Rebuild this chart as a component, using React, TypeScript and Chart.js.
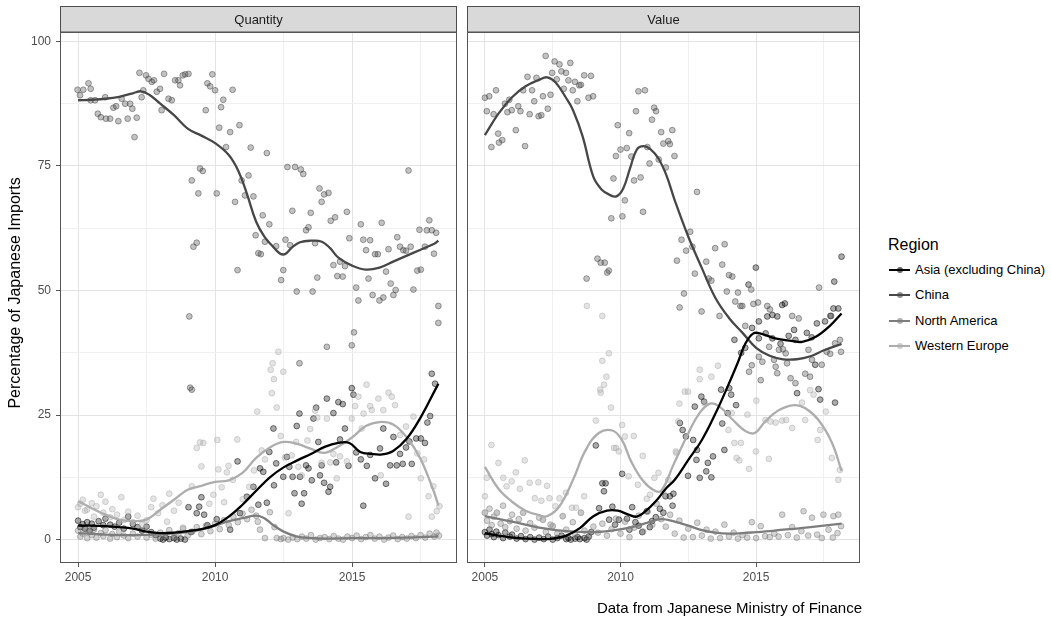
import React, { useEffect, useRef } from 'react';
import { Chart, registerables } from 'chart.js';

Chart.register(...registerables);

const FONT = "'Liberation Sans', Arial, Helvetica, sans-serif";

type P = [number, number];

// ---- categories / labels ----
const REGIONS = ['Asia (excluding China)', 'China', 'North America', 'Western Europe'];
const REGION_COLORS = ['#000000', '#474747', '#7d7d7d', '#adadad'];
const PANELS = ['Quantity', 'Value'];
const X_TICKS = [2005, 2007.5, 2010, 2012.5, 2015, 2017.5];
const X_LABELS = ['2005', '', '2010', '', '2015', ''];
const Y_TICKS = [0, 12.5, 25, 37.5, 50, 62.5, 75, 87.5, 100];
const Y_LABELS = ['0', '', '25', '', '50', '', '75', '', '100'];
const X_RANGE = [2004.34, 2018.83];
const Y_RANGE = [-4.7, 101.9];
const Y_TITLE = 'Percentage of Japanese Imports';
const LEGEND_TITLE = 'Region';
const CAPTION = 'Data from Japanese Ministry of Finance';

// ---- Quantity: observed shares ----
const qAsia: P[] = [
  [2005.0,3.8],[2005.08,2.5],[2005.17,3.1],[2005.25,2.2],[2005.33,3.5],[2005.42,1.8],[2005.5,3.2],[2005.58,2.4],
  [2005.75,3.7],[2005.92,2.9],[2006.0,4.2],[2006.17,3.0],[2006.33,2.6],[2006.5,3.4],[2006.67,2.2],[2006.83,4.6],
  [2007.0,3.1],[2007.17,2.5],[2007.33,1.8],[2007.5,2.6],[2007.67,1.5],[2007.83,0.9],[2008.0,0.2],[2008.1,0.0],
  [2008.2,0.4],[2008.33,0.1],[2008.5,0.3],[2008.6,0.0],[2008.75,0.2],[2008.9,0.0],[2009.03,6.5],[2009.12,1.5],
  [2009.33,5.3],[2009.42,6.6],[2009.5,8.5],[2009.6,5.0],[2009.72,2.9],[2010.06,4.1],[2010.55,2.0],[2010.82,15.7],
  [2010.91,5.3],[2011.16,8.6],[2011.4,10.6],[2011.58,7.0],[2011.64,14.3],[2011.76,13.6],[2011.89,7.4],[2011.98,17.6],
  [2012.13,22.3],[2012.15,10.9],[2012.23,15.3],[2012.49,12.6],[2012.62,16.6],[2012.71,14.6],[2012.83,12.6],[2012.9,9.3],
  [2012.98,22.8],[2013.08,25.3],[2013.1,12.6],[2013.16,7.2],[2013.25,9.3],[2013.32,14.9],[2013.41,14.3],[2013.53,11.9],
  [2013.59,24.3],[2013.69,26.5],[2013.77,19.6],[2013.83,12.9],[2013.89,14.9],[2013.98,11.4],[2014.08,28.3],[2014.14,9.6],
  [2014.2,10.6],[2014.32,25.4],[2014.42,15.5],[2014.5,27.6],[2014.56,20.1],[2014.66,27.2],[2014.74,22.3],[2014.87,14.8],
  [2014.99,30.4],[2015.05,29.1],[2015.15,17.5],[2015.32,16.1],[2015.41,6.8],[2015.54,14.8],[2015.66,17.0],[2015.84,12.3],
  [2016.02,18.3],[2016.14,22.3],[2016.24,11.2],[2016.39,14.9],[2016.51,20.6],[2016.63,14.9],[2016.75,17.2],[2016.85,15.2],
  [2016.97,18.5],[2017.09,19.7],[2017.18,15.2],[2017.34,20.3],[2017.51,20.3],[2017.66,19.4],[2017.75,23.5],[2017.85,24.8],
  [2017.91,33.3],[2018.03,31.3]
];
const qChina: P[] = [
  [2004.98,90.3],[2005.07,89.2],[2005.19,90.3],[2005.38,91.6],[2005.46,90.5],[2005.46,88.2],[2005.62,88.2],[2005.72,85.5],
  [2005.83,84.8],[2005.99,88.8],[2006.02,84.5],[2006.17,84.5],[2006.29,86.7],[2006.39,87.0],[2006.47,84.0],[2006.59,88.5],
  [2006.72,87.5],[2006.81,84.5],[2006.9,87.5],[2006.98,86.5],[2007.06,80.8],[2007.14,84.7],[2007.24,93.7],[2007.32,88.8],
  [2007.38,90.2],[2007.48,93.2],[2007.57,92.5],[2007.69,91.9],[2007.77,92.2],[2007.87,89.9],[2007.99,90.5],[2008.05,86.2],
  [2008.14,93.5],[2008.3,88.5],[2008.42,88.2],[2008.54,92.2],[2008.66,92.2],[2008.72,91.2],[2008.82,93.2],[2008.91,93.4],
  [2009.03,93.5],[2009.06,44.8],[2009.09,30.5],[2009.15,30.1],[2009.15,72.1],[2009.21,58.8],[2009.33,59.6],[2009.39,69.5],
  [2009.45,74.5],[2009.55,74.0],[2009.66,86.2],[2009.72,91.6],[2009.82,91.0],[2009.9,93.4],[2010.0,90.2],[2010.06,69.5],
  [2010.15,82.7],[2010.22,86.8],[2010.3,88.3],[2010.4,78.8],[2010.55,81.8],[2010.64,90.3],[2010.73,67.8],[2010.82,54.1],
  [2010.89,83.2],[2010.97,72.1],[2011.09,69.1],[2011.22,73.1],[2011.3,78.7],[2011.4,68.9],[2011.48,61.1],[2011.58,57.5],
  [2011.67,57.3],[2011.74,65.1],[2011.82,59.8],[2011.89,77.6],[2011.98,63.3],[2012.23,58.9],[2012.41,52.1],[2012.49,54.1],
  [2012.57,60.2],[2012.64,74.8],[2012.74,59.1],[2012.82,66.0],[2012.92,74.8],[2012.98,49.8],[2013.08,35.4],[2013.13,74.3],
  [2013.22,73.4],[2013.32,62.1],[2013.41,62.7],[2013.49,65.6],[2013.56,49.8],[2013.65,59.5],[2013.73,52.6],[2013.81,70.5],
  [2013.89,67.8],[2013.98,69.3],[2014.08,38.7],[2014.14,69.6],[2014.22,64.0],[2014.32,55.1],[2014.38,64.7],[2014.46,52.9],
  [2014.56,55.8],[2014.66,52.8],[2014.74,54.9],[2014.81,65.8],[2014.9,60.5],[2014.99,39.0],[2015.07,41.6],[2015.15,50.6],
  [2015.23,48.0],[2015.32,63.3],[2015.41,60.2],[2015.51,58.1],[2015.6,52.4],[2015.66,60.1],[2015.75,49.1],[2015.84,57.3],
  [2015.94,57.3],[2016.0,48.0],[2016.08,63.6],[2016.14,48.6],[2016.24,53.8],[2016.33,58.3],[2016.41,51.4],[2016.51,49.1],
  [2016.59,50.1],[2016.65,60.7],[2016.75,58.8],[2016.87,58.1],[2016.97,58.0],[2017.06,74.1],[2017.14,58.8],[2017.24,50.2],
  [2017.38,54.0],[2017.46,62.2],[2017.51,54.2],[2017.66,58.8],[2017.73,62.1],[2017.82,64.1],[2017.91,62.1],[2017.99,57.4],
  [2018.07,61.6],[2018.15,46.9],[2018.15,43.5]
];
const qNorthAmerica: P[] = [
  [2005.0,1.8],[2005.08,0.6],[2005.17,1.2],[2005.25,2.4],[2005.33,0.3],[2005.42,1.5],[2005.5,0.9],[2005.58,2.0],
  [2005.67,0.4],[2005.83,1.3],[2005.92,0.7],[2006.0,1.9],[2006.17,0.2],[2006.25,1.1],[2006.42,0.5],[2006.5,1.6],
  [2006.67,0.8],[2006.83,0.3],[2007.0,1.2],[2007.17,0.6],[2007.33,1.8],[2007.5,0.4],[2007.67,1.0],[2007.83,0.2],
  [2008.0,1.4],[2008.17,0.7],[2008.33,1.9],[2008.5,0.5],[2008.67,1.3],[2008.83,2.2],[2009.0,0.8],[2009.17,1.6],
  [2009.33,2.5],[2009.5,1.1],[2009.67,2.8],[2009.83,1.7],[2010.0,3.2],[2010.17,2.1],[2010.33,3.9],[2010.5,2.9],
  [2010.67,4.6],[2010.83,3.5],[2011.0,5.2],[2011.17,4.1],[2011.33,6.0],[2011.5,4.8],[2011.56,3.6],[2011.64,2.0],
  [2011.82,0.3],[2012.0,5.5],[2012.17,2.5],[2012.25,0.3],[2012.4,0.1],[2012.5,0.3],[2012.67,0.0],[2012.83,0.4],
  [2013.0,0.1],[2013.17,0.6],[2013.33,0.2],[2013.5,0.9],[2013.67,0.0],[2013.83,0.3],[2014.0,0.5],[2014.17,0.1],
  [2014.33,0.7],[2014.5,0.2],[2014.67,0.0],[2014.83,0.6],[2015.0,0.3],[2015.17,0.8],[2015.33,0.1],[2015.5,0.5],
  [2015.67,0.9],[2015.83,0.2],[2016.0,0.6],[2016.17,0.0],[2016.33,0.4],[2016.5,0.8],[2016.67,0.1],[2016.83,0.5],
  [2017.0,0.2],[2017.17,0.7],[2017.33,0.3],[2017.5,0.9],[2017.67,0.4],[2017.83,1.2],[2018.0,0.6],[2018.08,1.4],
  [2018.17,0.8]
];
const qWesternEurope: P[] = [
  [2005.0,6.5],[2005.08,7.2],[2005.17,8.0],[2005.25,5.8],[2005.33,6.0],[2005.5,7.3],[2005.58,4.6],[2005.67,6.7],
  [2005.83,9.0],[2005.92,5.4],[2006.0,7.6],[2006.17,4.5],[2006.25,6.1],[2006.42,5.0],[2006.58,8.5],[2006.67,3.9],
  [2006.83,5.6],[2007.0,3.5],[2007.17,4.8],[2007.33,3.0],[2007.5,3.9],[2007.67,6.5],[2007.75,8.2],[2007.92,5.3],
  [2008.08,6.9],[2008.25,3.6],[2008.33,9.2],[2008.5,5.8],[2008.67,7.4],[2008.83,2.4],[2009.15,10.7],[2009.33,18.4],
  [2009.45,19.5],[2009.5,14.7],[2009.57,19.4],[2009.79,7.2],[2009.94,9.0],[2010.08,20.0],[2010.12,14.1],[2010.24,10.5],
  [2010.33,7.5],[2010.43,13.5],[2010.49,14.8],[2010.65,12.0],[2010.81,20.1],[2011.01,8.1],[2011.25,10.6],[2011.42,13.9],
  [2011.54,25.7],[2011.7,17.9],[2011.82,16.1],[2012.03,34.1],[2012.07,29.4],[2012.1,35.4],[2012.15,32.2],[2012.25,26.5],
  [2012.31,37.7],[2012.4,20.8],[2012.49,33.7],[2012.55,16.5],[2012.68,5.3],[2012.8,16.9],[2012.96,19.6],[2013.04,14.6],
  [2013.16,12.9],[2013.37,19.9],[2013.47,22.2],[2013.65,25.9],[2013.73,24.5],[2013.89,15.4],[2014.08,24.3],[2014.2,15.5],
  [2014.32,17.2],[2014.44,12.3],[2014.56,16.7],[2014.81,15.7],[2014.99,24.3],[2015.11,26.8],[2015.23,28.7],[2015.35,22.3],
  [2015.42,25.3],[2015.53,31.1],[2015.66,26.8],[2015.72,26.0],[2015.96,28.3],[2016.05,12.9],[2016.14,26.0],[2016.33,29.5],
  [2016.45,28.7],[2016.57,27.0],[2016.75,21.0],[2016.97,22.7],[2017.06,4.6],[2017.24,24.7],[2017.38,17.3],[2017.51,12.3],
  [2017.63,16.1],[2017.79,8.7],[2017.91,4.6],[2017.97,10.7],[2018.09,5.7],[2018.19,6.7]
];

// ---- Value: observed shares ----
const vAsia: P[] = [
  [2005.0,1.5],[2005.08,0.8],[2005.17,2.0],[2005.25,1.1],[2005.33,0.5],[2005.42,1.6],[2005.5,0.9],[2005.67,0.3],
  [2005.75,1.4],[2005.92,0.6],[2006.0,1.0],[2006.17,0.2],[2006.33,0.7],[2006.5,0.1],[2006.67,0.5],[2006.83,0.0],
  [2007.0,0.4],[2007.17,0.1],[2007.33,0.6],[2007.5,0.0],[2007.67,0.3],[2007.83,0.8],[2008.0,0.1],[2008.08,0.3],
  [2008.17,0.0],[2008.33,0.2],[2008.42,0.5],[2008.5,0.1],[2008.67,0.3],[2008.75,0.0],[2008.83,0.6],[2008.92,1.5],
  [2009.09,18.9],[2009.21,6.3],[2009.33,11.3],[2009.39,9.7],[2009.45,11.3],[2009.58,4.0],[2009.7,6.6],[2009.8,3.0],
  [2009.94,4.0],[2010.06,13.2],[2010.24,4.2],[2010.33,2.0],[2010.43,6.5],[2010.55,3.5],[2010.67,2.8],[2010.8,1.5],
  [2010.97,5.7],[2011.08,2.5],[2011.16,3.7],[2011.3,4.5],[2011.45,6.2],[2011.58,5.4],[2011.66,8.7],[2011.82,8.7],
  [2011.92,6.8],[2011.95,9.2],[2012.19,23.4],[2012.29,22.0],[2012.41,20.7],[2012.49,12.8],[2012.68,20.0],[2012.74,26.7],
  [2012.8,16.0],[2012.82,18.0],[2012.92,12.4],[2012.98,28.7],[2013.08,27.7],[2013.16,13.7],[2013.22,15.4],[2013.35,12.5],
  [2013.41,16.7],[2013.71,30.1],[2013.75,23.3],[2013.83,18.0],[2013.95,25.4],[2014.01,30.4],[2014.08,29.1],[2014.2,40.1],
  [2014.26,27.0],[2014.45,37.5],[2014.6,38.5],[2014.72,51.2],[2014.85,42.5],[2014.99,54.6],[2015.1,40.4],[2015.1,43.8],
  [2015.35,41.4],[2015.41,44.8],[2015.6,40.4],[2015.6,45.1],[2015.78,44.8],[2015.9,39.3],[2015.96,47.1],[2016.06,47.4],
  [2016.2,40.9],[2016.4,42.1],[2016.45,40.1],[2016.51,29.4],[2016.87,41.5],[2017.05,40.6],[2017.18,35.1],[2017.24,43.4],
  [2017.3,30.2],[2017.36,28.1],[2017.54,43.8],[2017.76,44.9],[2017.85,46.4],[2017.88,51.8],[2017.91,27.5],[2018.03,46.4],
  [2018.15,56.8]
];
const vChina: P[] = [
  [2005.0,88.7],[2005.07,86.0],[2005.16,89.0],[2005.24,78.8],[2005.32,85.4],[2005.41,90.2],[2005.49,81.5],[2005.52,79.7],
  [2005.64,80.2],[2005.74,87.5],[2005.83,85.8],[2005.9,88.3],[2005.99,86.2],[2006.14,82.2],[2006.23,87.0],[2006.31,86.0],
  [2006.41,90.2],[2006.48,79.0],[2006.57,92.9],[2006.65,85.4],[2006.74,90.2],[2006.82,88.0],[2006.9,92.7],[2006.98,85.0],
  [2007.08,85.2],[2007.14,89.0],[2007.24,97.1],[2007.32,86.5],[2007.42,89.3],[2007.48,93.7],[2007.57,96.0],[2007.65,92.4],
  [2007.75,95.4],[2007.82,94.0],[2007.91,90.5],[2007.99,93.7],[2008.08,92.2],[2008.15,95.7],[2008.24,90.2],[2008.32,91.9],
  [2008.41,88.0],[2008.48,91.2],[2008.54,91.3],[2008.66,93.2],[2008.75,52.4],[2008.82,88.7],[2008.91,93.1],[2008.99,89.0],
  [2009.15,56.4],[2009.27,55.6],[2009.42,55.6],[2009.51,53.6],[2009.57,54.0],[2009.66,64.5],[2009.74,72.5],[2009.83,77.0],
  [2009.9,83.2],[2010.0,78.3],[2010.07,64.9],[2010.16,68.1],[2010.23,78.6],[2010.32,81.6],[2010.4,76.9],[2010.5,72.1],
  [2010.57,86.0],[2010.66,90.0],[2010.74,72.7],[2010.83,65.8],[2010.9,90.2],[2010.99,78.8],[2011.07,75.5],[2011.16,84.3],
  [2011.24,86.7],[2011.31,86.0],[2011.41,76.3],[2011.5,81.8],[2011.58,79.5],[2011.67,74.7],[2011.76,80.0],[2011.82,79.4],
  [2011.91,82.2],[2011.99,77.0],[2012.08,56.0],[2012.18,46.6],[2012.25,60.2],[2012.34,49.4],[2012.42,58.0],[2012.57,61.8],
  [2012.65,58.8],[2012.74,53.4],[2012.82,69.8],[2012.99,45.8],[2013.16,55.8],[2013.25,52.4],[2013.35,52.0],[2013.49,58.5],
  [2013.65,44.9],[2013.75,55.2],[2013.84,59.3],[2013.92,49.8],[2014.0,53.1],[2014.12,52.8],[2014.23,47.8],[2014.33,49.6],
  [2014.42,46.9],[2014.49,46.9],[2014.6,42.9],[2014.74,33.7],[2014.82,50.2],[2014.84,35.0],[2014.9,47.3],[2015.07,47.6],
  [2015.1,36.7],[2015.17,32.0],[2015.23,35.7],[2015.41,46.9],[2015.48,38.7],[2015.51,46.2],[2015.66,36.1],[2015.72,34.7],
  [2015.78,33.4],[2015.84,38.1],[2015.99,38.2],[2016.09,37.4],[2016.14,35.4],[2016.27,32.4],[2016.33,44.9],[2016.45,31.4],
  [2016.57,44.4],[2016.81,33.3],[2016.93,38.1],[2016.99,32.7],[2017.06,36.1],[2017.32,50.6],[2017.42,35.1],[2017.6,37.7],
  [2017.73,44.9],[2017.73,37.3],[2017.91,39.4],[2018.09,40.1],[2018.13,37.7]
];
const vNorthAmerica: P[] = [
  [2005.0,5.4],[2005.08,3.8],[2005.17,6.2],[2005.25,2.9],[2005.33,4.6],[2005.44,5.4],[2005.58,3.2],[2005.67,6.8],
  [2005.75,2.5],[2005.92,3.7],[2006.0,5.0],[2006.17,2.2],[2006.25,4.1],[2006.41,5.4],[2006.5,1.8],[2006.67,3.3],
  [2006.83,2.4],[2007.0,4.4],[2007.14,4.0],[2007.25,1.5],[2007.42,3.0],[2007.5,2.7],[2007.67,1.2],[2007.87,4.7],
  [2008.0,2.0],[2008.24,3.5],[2008.33,1.0],[2008.54,5.4],[2008.67,1.8],[2008.83,0.6],[2009.0,2.6],[2009.17,1.4],
  [2009.33,3.2],[2009.5,0.8],[2009.67,2.1],[2009.83,4.2],[2010.0,1.2],[2010.17,3.6],[2010.33,0.5],[2010.5,2.4],
  [2010.67,4.8],[2010.83,1.6],[2011.0,5.6],[2011.17,3.0],[2011.33,7.2],[2011.5,4.1],[2011.67,2.6],[2011.83,5.0],
  [2012.0,1.2],[2012.17,3.8],[2012.33,0.4],[2012.5,2.2],[2012.67,0.5],[2012.83,3.4],[2013.0,0.8],[2013.17,2.0],
  [2013.33,0.2],[2013.5,1.6],[2013.67,0.3],[2013.83,3.0],[2014.0,0.6],[2014.17,1.4],[2014.33,0.2],[2014.5,0.9],
  [2014.67,0.4],[2014.84,3.5],[2015.0,0.3],[2015.17,2.7],[2015.33,0.7],[2015.5,0.5],[2015.67,1.2],[2015.83,0.6],
  [2015.96,5.0],[2016.17,0.9],[2016.33,2.5],[2016.5,0.4],[2016.67,1.7],[2016.75,5.7],[2016.92,0.8],[2017.06,4.4],
  [2017.25,1.0],[2017.42,0.3],[2017.48,5.0],[2017.67,2.0],[2017.83,0.4],[2017.85,4.7],[2018.0,1.3],[2018.03,5.0],
  [2018.13,2.7]
];
const vWesternEurope: P[] = [
  [2005.0,8.7],[2005.0,5.4],[2005.07,12.4],[2005.24,19.0],[2005.44,5.4],[2005.5,15.4],[2005.68,12.4],[2005.8,10.7],
  [2005.92,3.7],[2005.99,11.7],[2006.14,13.5],[2006.29,10.2],[2006.41,5.4],[2006.47,15.9],[2006.65,11.4],[2006.84,8.3],
  [2006.97,11.5],[2007.08,7.8],[2007.14,4.0],[2007.29,10.8],[2007.38,8.3],[2007.5,2.7],[2007.6,6.7],[2007.75,8.3],
  [2007.87,4.7],[2007.99,9.4],[2008.21,6.4],[2008.36,6.4],[2008.54,5.4],[2008.66,8.7],[2008.76,46.9],[2009.09,23.9],
  [2009.25,30.1],[2009.27,29.5],[2009.33,35.9],[2009.33,44.9],[2009.39,31.1],[2009.48,32.7],[2009.57,37.4],[2009.65,26.5],
  [2009.76,18.4],[2009.84,18.4],[2009.94,17.7],[2010.06,23.0],[2010.16,20.7],[2010.3,12.7],[2010.49,20.8],[2010.64,11.0],
  [2010.82,16.8],[2010.97,8.2],[2011.09,9.0],[2011.25,12.4],[2011.4,13.4],[2011.58,9.4],[2011.76,12.0],[2012.04,17.7],
  [2012.07,17.4],[2012.13,23.7],[2012.17,27.3],[2012.37,29.7],[2012.49,29.7],[2012.92,32.2],[2012.92,34.1],[2013.1,27.4],
  [2013.35,32.7],[2013.59,34.9],[2013.98,22.0],[2014.1,25.4],[2014.2,19.4],[2014.28,16.4],[2014.38,15.9],[2014.44,19.4],
  [2014.68,25.1],[2014.74,14.2],[2014.99,17.7],[2015.01,27.9],[2015.35,24.0],[2015.47,16.2],[2015.53,23.7],[2015.72,23.5],
  [2015.96,23.9],[2016.11,24.0],[2016.33,22.4],[2016.69,27.5],[2016.81,24.0],[2016.99,30.0],[2017.12,29.1],[2017.27,20.0],
  [2017.36,22.0],[2017.57,25.7],[2017.79,16.4],[2018.03,12.0],[2018.09,14.0]
];

// ---- smoothed trend lines ----
const qAsiaTrend: P[] = [
  [2005,2.8],[2005.5,2.8],[2006,2.7],[2006.5,2.5],[2007,2.2],[2007.5,1.6],[2008,1.3],[2008.5,1.4],[2009,1.7],
  [2009.5,2.1],[2010,2.9],[2010.5,4.6],[2011,7.0],[2011.5,9.8],[2012,12.5],[2012.5,14.5],[2013,15.9],[2013.5,17.2],
  [2014,18.6],[2014.5,19.4],[2014.9,19.4],[2015.3,17.6],[2015.7,17.2],[2016.1,17.1],[2016.5,17.8],[2017,20.3],
  [2017.5,24.5],[2018,29.7],[2018.15,31.3]
];
const qChinaTrend: P[] = [
  [2005,88.2],[2005.5,88.3],[2006,88.5],[2006.5,88.9],[2007,89.6],[2007.3,90.0],[2007.6,89.3],[2008,87.5],[2008.5,85.2],
  [2009,82.5],[2009.5,81.1],[2010,79.6],[2010.5,77.2],[2010.85,74.0],[2011.15,69.6],[2011.5,63.8],[2011.8,60.8],
  [2012.1,58.9],[2012.35,57.5],[2012.55,57.3],[2012.8,58.6],[2013.1,59.7],[2013.5,60.0],[2013.9,59.8],[2014.2,58.5],
  [2014.5,56.6],[2015,55.0],[2015.5,54.2],[2016,54.6],[2016.5,55.8],[2017,57.0],[2017.5,58.2],[2018,59.4],[2018.15,60.0]
];
const qNorthAmericaTrend: P[] = [
  [2005,1.3],[2006,1.0],[2007,0.9],[2008,1.1],[2009,1.5],[2009.5,2.0],[2010,2.8],[2010.5,3.7],[2011,4.3],[2011.5,4.8],
  [2011.8,4.3],[2012.1,3.0],[2012.5,1.6],[2013,0.6],[2013.5,0.3],[2014,0.2],[2015,0.3],[2016,0.3],[2017,0.4],[2018,0.6],
  [2018.15,0.7]
];
const qWesternEuropeTrend: P[] = [
  [2005,7.7],[2005.5,6.3],[2006,5.0],[2006.5,4.0],[2007,3.7],[2007.5,4.0],[2008,6.0],[2008.5,8.0],[2009,10.0],
  [2009.5,10.8],[2010,11.6],[2010.5,11.9],[2011,13.4],[2011.5,16.4],[2012,18.5],[2012.5,19.6],[2013,19.2],[2013.5,18.2],
  [2014,17.4],[2014.5,18.7],[2015,20.5],[2015.5,22.8],[2016,23.6],[2016.5,23.1],[2017,20.5],[2017.5,16.2],[2018,9.4],
  [2018.15,6.8]
];
const vAsiaTrend: P[] = [
  [2005,1.3],[2005.5,0.8],[2006,0.4],[2006.5,0.2],[2007,0.1],[2007.5,0.2],[2008,0.8],[2008.5,2.3],[2009,4.7],
  [2009.5,5.8],[2009.9,5.8],[2010.3,5.0],[2010.6,4.6],[2010.9,5.6],[2011.3,7.7],[2011.7,10.4],[2012,12.0],[2012.5,16.0],
  [2013,20.0],[2013.5,25.3],[2013.9,30.1],[2014.3,35.2],[2014.6,39.3],[2014.9,41.4],[2015.2,41.3],[2015.7,40.4],
  [2016.3,39.9],[2016.7,39.7],[2017.2,40.7],[2017.7,42.8],[2018.15,45.4]
];
const vChinaTrend: P[] = [
  [2005,81.2],[2005.5,85.5],[2006,88.8],[2006.5,91.0],[2007,92.3],[2007.3,92.8],[2007.6,91.8],[2008,88.6],[2008.25,86.2],
  [2008.6,81.0],[2009,72.8],[2009.3,70.3],[2009.6,69.2],[2009.85,68.9],[2010.1,70.5],[2010.35,74.5],[2010.6,78.3],
  [2010.85,79.0],[2011.1,78.4],[2011.4,76.5],[2011.7,73.0],[2012,68.1],[2012.5,60.8],[2013,54.5],[2013.5,48.5],[2014,44.5],
  [2014.5,41.5],[2015,38.5],[2015.5,36.9],[2016,36.2],[2016.5,36.2],[2017,36.8],[2017.5,38.0],[2018,39.0],[2018.15,39.3]
];
const vNorthAmericaTrend: P[] = [
  [2005,4.7],[2006,3.6],[2007,2.4],[2008,1.7],[2009,1.5],[2009.8,1.9],[2010.5,2.6],[2011,3.4],[2011.5,4.1],[2012,3.6],
  [2012.5,2.8],[2013,1.9],[2013.5,1.4],[2014,1.2],[2014.5,1.3],[2015,1.5],[2015.5,1.7],[2016,2.0],[2016.5,2.2],
  [2017,2.5],[2017.5,2.8],[2018.15,3.2]
];
const vWesternEuropeTrend: P[] = [
  [2005,14.6],[2005.5,10.2],[2006,7.6],[2006.5,5.8],[2007,4.9],[2007.3,4.7],[2007.75,6.7],[2008.25,12.0],[2008.7,17.8],
  [2009.2,21.4],[2009.7,21.9],[2010.05,20.0],[2010.4,15.6],[2010.8,12.0],[2011.2,10.0],[2011.5,9.8],[2011.95,15.0],
  [2012.45,20.8],[2012.9,25.3],[2013.3,27.3],[2013.65,26.7],[2014.15,24.0],[2014.6,21.8],[2014.95,21.4],[2015.35,23.8],
  [2015.85,26.0],[2016.4,27.0],[2016.8,26.4],[2017.3,24.0],[2017.8,19.4],[2018.15,13.8]
];

const PANEL_POINTS: P[][][] = [
  [qAsia, qChina, qNorthAmerica, qWesternEurope],
  [vAsia, vChina, vNorthAmerica, vWesternEurope],
];
const PANEL_TRENDS: P[][][] = [
  [qAsiaTrend, qChinaTrend, qNorthAmericaTrend, qWesternEuropeTrend],
  [vAsiaTrend, vChinaTrend, vNorthAmericaTrend, vWesternEuropeTrend],
];

function hexToRgba(hex: string, a: number) {
  const n = parseInt(hex.slice(1), 16);
  return `rgba(${(n >> 16) & 255},${(n >> 8) & 255},${n & 255},${a})`;
}

const toXY = (arr: P[]) => arr.map(([x, y]) => ({ x, y }));

function makePanelPlugin(title: string) {
  return {
    id: 'panelDecor',
    beforeDraw(chart: any) {
      const { ctx, chartArea } = chart;
      const top = 6.5;
      ctx.save();
      ctx.fillStyle = '#d9d9d9';
      ctx.fillRect(chartArea.left, top, chartArea.right - chartArea.left, chartArea.top - top);
      ctx.strokeStyle = '#4d4d4d';
      ctx.lineWidth = 1;
      ctx.strokeRect(chartArea.left + 0.5, top, chartArea.right - chartArea.left - 1, chartArea.top - top);
      ctx.fillStyle = '#1a1a1a';
      ctx.font = `13px ${FONT}`;
      ctx.textAlign = 'center';
      ctx.textBaseline = 'middle';
      ctx.fillText(title, (chartArea.left + chartArea.right) / 2, (top + chartArea.top) / 2 + 1);
      ctx.restore();
    },
    afterDatasetsDraw(chart: any) {
      const { ctx, chartArea } = chart;
      ctx.save();
      ctx.strokeStyle = '#555555';
      ctx.lineWidth = 1;
      ctx.strokeRect(chartArea.left + 0.5, chartArea.top + 0.5, chartArea.right - chartArea.left - 1, chartArea.bottom - chartArea.top - 1);
      ctx.restore();
    },
  };
}

function Panel({ index, left, width, showY }: { index: number; left: number; width: number; showY: boolean }) {
  const ref = useRef<HTMLCanvasElement>(null);
  useEffect(() => {
    if (!ref.current) return;
    const datasets: any[] = [];
    PANEL_POINTS[index].forEach((pts, i) => {
      datasets.push({
        type: 'scatter',
        label: REGIONS[i] + ' points',
        data: toXY(pts),
        backgroundColor: hexToRgba(REGION_COLORS[i], 0.33),
        borderColor: hexToRgba(REGION_COLORS[i], 0.5),
        borderWidth: 1,
        pointRadius: 2.9,
        order: 10 - i,
      });
    });
    PANEL_TRENDS[index].forEach((pts, i) => {
      datasets.push({
        type: 'line',
        label: REGIONS[i],
        data: toXY(pts),
        borderColor: REGION_COLORS[i],
        borderWidth: 2.3,
        pointRadius: 0,
        fill: false,
        tension: 0.4,
        cubicInterpolationMode: 'default',
        order: 0,
      });
    });
    const gridColor = (major: boolean) => (major ? '#e3e3e3' : '#f0f0f0');
    const chart = new Chart(ref.current, {
      type: 'scatter',
      data: { datasets },
      plugins: [makePanelPlugin(PANELS[index])],
      options: {
        animation: false,
        responsive: false,
        devicePixelRatio: 1,
        layout: { padding: { top: 32, left: showY ? 0 : 3, right: showY ? 5 : 3, bottom: 0 } },
        plugins: { legend: { display: false }, tooltip: { enabled: false } },
        scales: {
          x: {
            type: 'linear',
            min: X_RANGE[0],
            max: X_RANGE[1],
            afterBuildTicks: (s: any) => { s.ticks = X_TICKS.map((v) => ({ value: v })); },
            afterFit: (s: any) => { s.height = 37; },
            ticks: {
              autoSkip: false,
              maxRotation: 0,
              padding: 3,
              color: '#4d4d4d',
              font: { family: FONT, size: 12 },
              callback: (v: any) => { const k = X_TICKS.indexOf(Number(v)); return k >= 0 ? X_LABELS[k] : ''; },
            },
            grid: {
              color: (c: any) => gridColor(X_LABELS[X_TICKS.indexOf(c.tick?.value)] !== ''),
              tickColor: (c: any) => (X_LABELS[X_TICKS.indexOf(c.tick?.value)] !== '' ? '#555555' : 'rgba(0,0,0,0)'),
              tickLength: 4,
              lineWidth: 1,
            },
            border: { display: false },
          },
          y: {
            type: 'linear',
            min: Y_RANGE[0],
            max: Y_RANGE[1],
            afterBuildTicks: (s: any) => { s.ticks = Y_TICKS.map((v) => ({ value: v })); },
            afterFit: (s: any) => { s.width = showY ? 60 : 0; },
            ticks: {
              display: showY,
              autoSkip: false,
              padding: 5,
              color: '#4d4d4d',
              font: { family: FONT, size: 12 },
              callback: (v: any) => { const k = Y_TICKS.indexOf(Number(v)); return k >= 0 ? Y_LABELS[k] : ''; },
            },
            grid: {
              color: (c: any) => gridColor(Y_LABELS[Y_TICKS.indexOf(c.tick?.value)] !== ''),
              tickColor: (c: any) => (Y_LABELS[Y_TICKS.indexOf(c.tick?.value)] !== '' ? '#555555' : 'rgba(0,0,0,0)'),
              tickLength: 4,
              drawTicks: showY,
              lineWidth: 1,
            },
            border: { display: false },
          },
        },
      } as any,
    });
    return () => chart.destroy();
  }, [index, showY]);
  return (
    <canvas
      ref={ref}
      width={width}
      height={600}
      style={{ position: 'absolute', left, top: 0, width, height: 600 }}
    />
  );
}

export default function App() {
  const legendY = [269.5, 295, 320.5, 346];
  return (
    <div style={{ position: 'absolute', left: 0, top: 0, width: 1051, height: 623, background: '#ffffff', fontFamily: FONT, overflow: 'hidden' }}>
      <Panel index={0} left={0} width={462} showY={true} />
      <Panel index={1} left={462} width={403} showY={false} />
      <div
        style={{
          position: 'absolute', left: 14.5 - 150, top: 293 - 10, width: 300, height: 20, lineHeight: '20px',
          textAlign: 'center', fontSize: 16, color: '#000', transform: 'rotate(-90deg)', transformOrigin: '50% 50%', whiteSpace: 'nowrap',
        }}
      >
        {Y_TITLE}
      </div>
      <div style={{ position: 'absolute', left: 888, top: 235, fontSize: 16, lineHeight: '20px', color: '#000' }}>{LEGEND_TITLE}</div>
      {REGIONS.map((r, i) => (
        <div key={r} style={{ position: 'absolute', left: 888, top: legendY[i] - 9, height: 18, width: 160 }}>
          <div style={{ position: 'absolute', left: 1, top: 8, width: 21, height: 2.4, background: REGION_COLORS[i] }} />
          <div style={{ position: 'absolute', left: 8.5, top: 6, width: 6, height: 6, borderRadius: 3, background: hexToRgba(REGION_COLORS[i], 0.6) }} />
          <div style={{ position: 'absolute', left: 27, top: 0, fontSize: 13, lineHeight: '18px', color: '#000', whiteSpace: 'nowrap' }}>{r}</div>
        </div>
      ))}
      <div style={{ position: 'absolute', right: 1051 - 862, top: 599, fontSize: 15, lineHeight: '18px', color: '#000', whiteSpace: 'nowrap' }}>
        {CAPTION}
      </div>
    </div>
  );
}
